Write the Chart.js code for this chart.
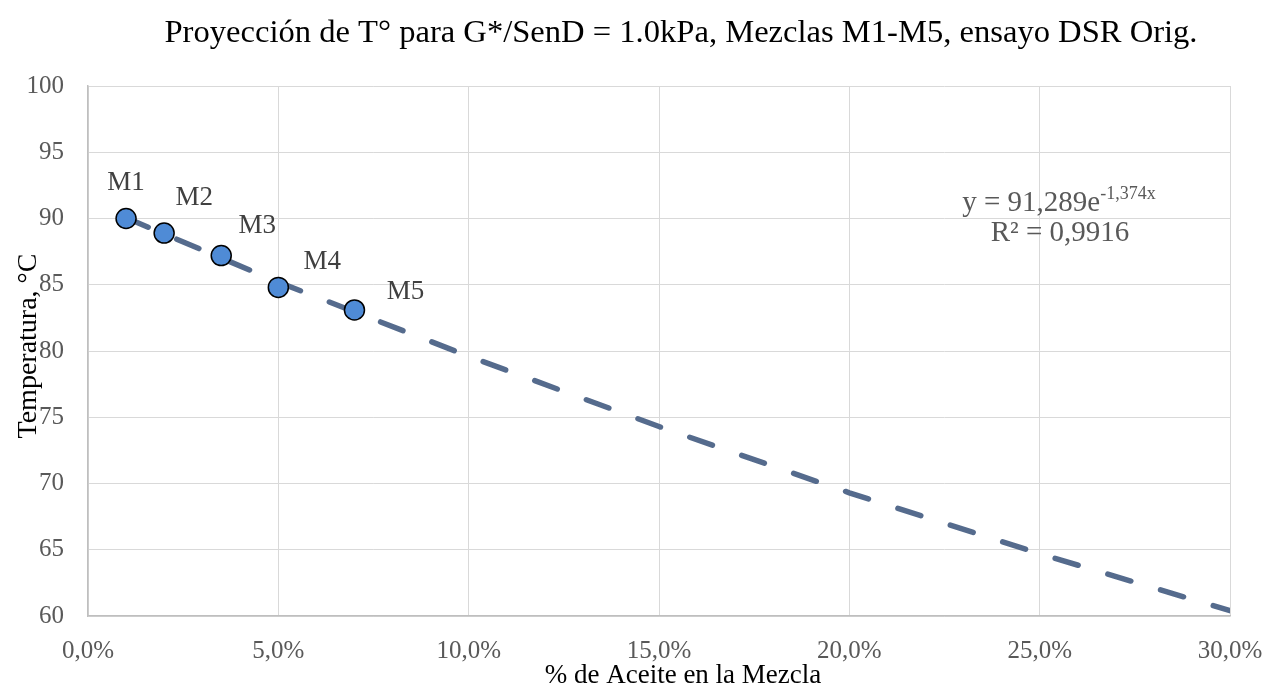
<!DOCTYPE html>
<html><head><meta charset="utf-8">
<script src="https://cdn.jsdelivr.net/npm/chart.js@4/dist/chart.umd.min.js"></script>
<style>html,body{margin:0;padding:0;background:#fff}#wrap{width:1264px;height:688px}</style>
</head><body><div id="wrap"><canvas id="c" width="1264" height="688"></canvas></div>
<script>
const labels = ["M1","M2","M3","M4","M5"];
const oilPct = [0.01,0.02,0.035,0.05,0.07];
const temps = [90.0,88.9,87.2,84.8,83.1];
const trendX = [0.01,0.05,0.10,0.15,0.20,0.25,0.30];
const trendY = [90.05,85.2,79.6,74.3,69.3,64.7,60.4];
const xTicks = [0,0.05,0.10,0.15,0.20,0.25,0.30];
const yTicks = [60,65,70,75,80,85,90,95,100];
const titleText = "Proyección de T° para G*/SenD = 1.0kPa, Mezclas M1-M5, ensayo DSR Orig.";
const xTitle = "% de Aceite en la Mezcla";
const yTitle = "Temperatura, °C";
const eqMain = "y = 91,289e";
const eqSup = "-1,374x";
const r2Text = "R² = 0,9916";

const FONT = "'Liberation Serif','Times New Roman',serif";
const labelOffsets = [[0,-36],[30,-35],[36,-30],[44,-25],[51,-18]];

const textPlugin = {
  id:'texts',
  afterDraw(chart){
    const ctx = chart.ctx;
    ctx.save();
    ctx.fillStyle = '#000';
    ctx.font = `32.6px ${FONT}`;
    ctx.textAlign='center'; ctx.textBaseline='alphabetic';
    ctx.fillText(titleText, 681, 42);
    ctx.font = `27px ${FONT}`;
    ctx.fillText(xTitle, 683, 683);
    ctx.save();
    ctx.font = `28px ${FONT}`;
    ctx.translate(36, 346); ctx.rotate(-Math.PI/2);
    ctx.fillText(yTitle, 0, 0);
    ctx.restore();
    // data labels
    const meta = chart.getDatasetMeta(1);
    ctx.font = `27px ${FONT}`;
    ctx.fillStyle = '#404040';
    ctx.textBaseline='middle';
    meta.data.forEach((p,i)=>{
      ctx.fillText(labels[i], p.x+labelOffsets[i][0], p.y+labelOffsets[i][1]);
    });
    // equation
    ctx.fillStyle = '#595959';
    ctx.textBaseline='alphabetic'; ctx.textAlign='left';
    ctx.font = `29px ${FONT}`;
    const w1 = ctx.measureText(eqMain).width;
    ctx.font = `18px ${FONT}`;
    const w2 = ctx.measureText(eqSup).width;
    const sx = 1059 - (w1+w2)/2;
    ctx.font = `29px ${FONT}`;
    ctx.fillText(eqMain, sx, 211);
    ctx.font = `18px ${FONT}`;
    ctx.fillText(eqSup, sx+w1, 199);
    ctx.font = `29px ${FONT}`;
    ctx.textAlign='center';
    ctx.fillText(r2Text, 1060, 241);
    ctx.restore();
  }
};

new Chart(document.getElementById('c'), {
  type:'scatter',
  data:{
    datasets:[
      {
        label:'trend',
        data: trendX.map((x,i)=>({x, y:trendY[i]})),
        showLine:true,
        borderColor:'#556b8d',
        borderWidth:5.5,
        borderDash:[24,31],
        borderCapStyle:'round',
        pointRadius:0,
        fill:false,
        order:2
      },
      {
        label:'M',
        data: oilPct.map((x,i)=>({x, y:temps[i]})),
        backgroundColor:'#4f8bd6',
        borderColor:'#000',
        borderWidth:1.5,
        pointRadius:10,
        pointHoverRadius:10,
        order:1
      }
    ]
  },
  options:{
    responsive:false,
    animation:false,
    events:[],
    layout:{padding:{top:86,right:34,left:0,bottom:0}},
    plugins:{legend:{display:false},title:{display:false},tooltip:{enabled:false}},
    scales:{
      x:{
        type:'linear', min:0, max:0.30,
        afterBuildTicks(s){ s.ticks = xTicks.map(v=>({value:v})); },
        afterFit(s){ s.height = 72; s.paddingLeft = 0; s.paddingRight = 0; },
        grid:{color:'#d9d9d9', lineWidth:1, drawTicks:false},
        border:{color:'#bfbfbf', width:1.5},
        ticks:{
          padding:20, color:'#595959', font:{family:FONT, size:25},
          maxRotation:0, autoSkip:false,
          callback:v=>(v*100).toFixed(1).replace('.',',')+'%'
        }
      },
      y:{
        type:'linear', min:60, max:100,
        afterBuildTicks(s){ s.ticks = yTicks.map(v=>({value:v})); },
        afterFit(s){ s.width = 88; s.paddingTop = 0; s.paddingBottom = 0; },
        grid:{color:'#d9d9d9', lineWidth:1, drawTicks:false},
        border:{color:'#bfbfbf', width:1.5},
        ticks:{padding:24, color:'#595959', font:{family:FONT, size:25}}
      }
    }
  },
  plugins:[textPlugin]
});
</script>
</body></html>
